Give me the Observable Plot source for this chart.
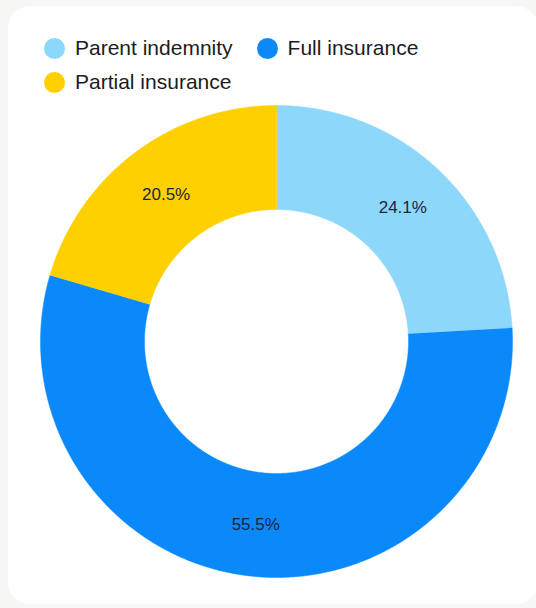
<!DOCTYPE html>
<html>
<head>
<meta charset="utf-8">
<script src="https://cdn.jsdelivr.net/npm/d3@7"></script>
<script src="https://cdn.jsdelivr.net/npm/@observablehq/plot@0.6"></script>
<style>
  html, body { margin: 0; padding: 0; background: #f7f7f5; }
  body { width: 536px; height: 608px; position: relative; overflow: hidden; font-family: "Liberation Sans", Arial, sans-serif; }
  #card { position: absolute; left: 8px; top: 6px; width: 530px; height: 598px; background: #fff; border-radius: 22px; }
  #legend { position: absolute; left: 44px; top: 33px; width: 440px; display: flex; flex-wrap: wrap; column-gap: 24px; row-gap: 4px; }
  .item { display: flex; align-items: center; font-size: 21px; color: #1c1c1c; height: 30px; }
  .sw { width: 21px; height: 21px; border-radius: 50%; margin-right: 10px; }
  #chart { position: absolute; left: 0; top: 100px; }
</style>
</head>
<body>
<div id="card"></div>
<div id="legend"></div>
<div id="chart"></div>
<script>
const categories = ["Parent indemnity", "Full insurance", "Partial insurance"];
const shares = [24.1, 55.5, 20.5];
const labels = ["24.1%", "55.5%", "20.5%"];
const colors = ["#8dd7fb", "#0a89fb", "#ffd000"];

// legend
const legend = document.getElementById("legend");
categories.forEach((c, i) => {
  const it = document.createElement("div");
  it.className = "item";
  it.innerHTML = `<span class="sw" style="background:${colors[i]}"></span>${c}`;
  legend.appendChild(it);
});

const outerR = 236, innerR = 132;
const pie = d3.pie().sort(null).value(d => d)(shares);

// polygon points for each slice (angles clockwise from 12 o'clock)
const pts = [];
pie.forEach((p, i) => {
  const n = Math.max(8, Math.ceil((p.endAngle - p.startAngle) / 0.005));
  for (let k = 0; k <= n; k++) {
    const a = p.startAngle + (p.endAngle - p.startAngle) * k / n;
    pts.push({key: categories[i], x: outerR * Math.sin(a), y: outerR * Math.cos(a)});
  }
  for (let k = n; k >= 0; k--) {
    const a = p.startAngle + (p.endAngle - p.startAngle) * k / n;
    pts.push({key: categories[i], x: innerR * Math.sin(a), y: innerR * Math.cos(a)});
  }
});

const labelR = (outerR + innerR) / 2;
const labelData = pie.map((p, i) => {
  const a = (p.startAngle + p.endAngle) / 2;
  return {label: labels[i], x: labelR * Math.sin(a), y: labelR * Math.cos(a)};
});

const W = 536, H = 500;
const cx = 276, cy = 241;
const chart = Plot.plot({
  width: W,
  height: H,
  margin: 0,
  x: {domain: [-cx, W - cx], axis: null},
  y: {domain: [cy - H, cy], axis: null},
  color: {domain: categories, range: colors},
  style: {background: "transparent", overflow: "visible"},
  marks: [
    Plot.line(pts, {x: "x", y: "y", z: "key", fill: "key", stroke: "key", strokeWidth: 0.5, curve: "linear"}),
    Plot.text(labelData, {x: "x", y: "y", text: "label", fontSize: 17, fill: "#1b2540", fontFamily: "Liberation Sans, Arial, sans-serif"})
  ]
});
document.getElementById("chart").appendChild(chart);
</script>
</body>
</html>
